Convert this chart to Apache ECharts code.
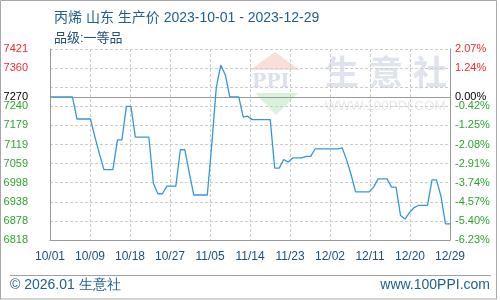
<!DOCTYPE html>
<html>
<head>
<meta charset="utf-8">
<script src="https://cdn.jsdelivr.net/npm/echarts@6/dist/echarts.min.js"></script>
<style>html,body{margin:0;padding:0;background:#fff;}#c{width:500px;height:300px;}</style>
</head>
<body>
<div id="c"></div>
<script>
// ---- data ----
var startDate = [2023, 9, 1]; // 2023-10-01
var prices = [
  7270,7270,7270,7270,7270,7270,
  7200,7200,7200,7200,
  7143,7090,
  7040,7040,7040,
  7134,7134,
  7240,7240,
  7143,7143,7143,7143,
  6997,
  6964,6964,
  6988,6988,6988,
  7103,7103,
  7029,
  6960,6960,6960,6960,
  7120,7300,7370,7340,
  7270,7270,7270,
  7206,7209,
  7198,7198,7198,7198,7198,
  7045,7045,
  7072,7064,
  7077,7077,7077,
  7082,7082,
  7106,7106,7106,7106,7106,7106,
  7109,7071,7024,
  6970,6970,6970,6970,
  6985,
  7011,7011,7011,
  6985,6985,
  6895,6884,6905,6920,
  6927,6927,6927,
  7008,7008,
  6955,
  6869,6869
];
var basePrice = 7270;
var xTickLabels = ['10/01','10/09','10/18','10/27','11/05','11/14','11/23','12/02','12/11','12/20','12/29'];
var yLeftLabels = ['6818','6878','6938','6998','7059','7119','7179','7240','','7360','7421'];
var yRightLabels = ['-6.23%','-5.40%','-4.57%','-3.74%','-2.91%','-2.08%','-1.25%','-0.42%','','1.24%','2.07%'];
var yMin = 6818, yMax = 7421, yStep = 60.3;
var xStep = 8.9;

// build dates
var dates = prices.map(function (_, i) {
  var d = new Date(startDate[0], startDate[1], startDate[2] + i);
  return d;
});
var seriesData = prices.map(function (v, i) { return [i, v]; });

var FONT = '"Liberation Sans", "Noto Sans CJK SC", sans-serif';
var RED = '#f0282a', GREEN = '#2aa52a';

function yIdx(v) { return Math.round((v - yMin) / yStep); }

var chart = echarts.init(document.getElementById('c'), null, {renderer: 'canvas'});
chart.setOption({
  animation: false,
  backgroundColor: '#fff',
  grid: {left: 50, right: 50, top: 49, bottom: 60, containLabel: false},
  title: [
    {text: '丙烯 山东 生产价 2023-10-01 - 2023-12-29', left: 49, top: 6,
     textStyle: {fontSize: 14, fontWeight: 'normal', color: '#1d5f8e', fontFamily: FONT}},
    {text: '品级:一等品', left: 49, top: 27,
     textStyle: {fontSize: 13, fontWeight: 'normal', color: '#24507a', fontFamily: FONT}}
  ],
  xAxis: {
    type: 'value', min: 0, max: prices.length - 1, interval: xStep,
    axisLine: {show: true, lineStyle: {color: '#999', width: 1}},
    axisTick: {show: false},
    splitLine: {show: true, lineStyle: {color: '#ccc', type: [3, 2], width: 1}},
    axisLabel: {
      margin: 11, fontSize: 12, color: '#1a5080', fontFamily: FONT,
      showMinLabel: true, showMaxLabel: true,
      formatter: function (v) { return xTickLabels[Math.round(v / xStep)] || ''; }
    }
  },
  yAxis: [
    {
      type: 'value', min: yMin, max: yMax, interval: yStep, position: 'left',
      axisLine: {show: true, lineStyle: {color: '#999', width: 1}},
      axisTick: {show: false},
      splitLine: {show: true, lineStyle: {color: '#ccc', type: [3, 2], width: 1}},
      axisLabel: {
        margin: 22, fontSize: 11, fontFamily: FONT,
        showMinLabel: true, showMaxLabel: true,
        formatter: function (v) { return yLeftLabels[yIdx(v)] || ''; },
        color: function (v) { return v > basePrice ? RED : GREEN; }
      }
    },
    {
      type: 'value', min: yMin, max: yMax, interval: yStep, position: 'right',
      axisLine: {show: true, lineStyle: {color: '#999', width: 1}},
      axisTick: {show: false},
      splitLine: {show: false},
      axisLabel: {
        margin: 5, fontSize: 11, fontFamily: FONT,
        showMinLabel: true, showMaxLabel: true,
        formatter: function (v) { return yRightLabels[yIdx(v)] || ''; },
        color: function (v) { return v > basePrice ? RED : GREEN; }
      }
    }
  ],
  graphic: [
    {type: 'rect', z: -10, silent: true, shape: {x: 0.5, y: 0.5, width: 496, height: 298.5},
     style: {fill: null, stroke: '#a8a8a8', lineWidth: 1}},
    {type: 'line', silent: true, shape: {x1: 10, y1: 275.5, x2: 491, y2: 275.5},
     style: {stroke: '#a0a0a0', lineWidth: 1}},
    {type: 'text', left: 10, top: 278, silent: true,
     style: {text: '© 2026.01 生意社', fontSize: 14, fill: '#1d5f8e', font: '14px ' + FONT}},
    {type: 'text', right: 10, top: 278, silent: true,
     style: {text: 'www.100PPI.com', fontSize: 14, fill: '#1d5f8e', font: '14px ' + FONT}},
    // watermark
    {type: 'polygon', z: -5, silent: true, shape: {points: [[275, 52], [250, 70], [300, 70]]},
     style: {fill: 'rgba(240,160,150,0.35)'}},
    {type: 'text', z: -5, silent: true, x: 252, y: 73,
     style: {text: 'PPI', font: 'bold 19px "DejaVu Serif", serif', fill: 'rgba(180,195,225,0.5)'}},
    {type: 'polygon', z: -5, silent: true, shape: {points: [[255, 93], [298, 93], [276, 115]]},
     style: {fill: 'rgba(150,215,150,0.35)'}},
    {type: 'text', z: -5, silent: true, x: 325, y: 55,
     style: {text: '生', font: 'bold 34px "Noto Sans CJK SC"', fill: 'rgba(200,208,225,0.6)'}},
    {type: 'text', z: -5, silent: true, x: 369, y: 55,
     style: {text: '意', font: 'bold 34px "Noto Sans CJK SC"', fill: 'rgba(200,208,225,0.6)'}},
    {type: 'text', z: -5, silent: true, x: 413, y: 55,
     style: {text: '社', font: 'bold 34px "Noto Sans CJK SC"', fill: 'rgba(200,208,225,0.6)'}},
    {type: 'text', z: -5, silent: true, x: 325, y: 99,
     style: {text: 'WWW.100PPI.COM', font: '13.5px "Liberation Sans"', fill: 'rgba(215,215,215,0.6)'}}
  ],
  series: [{
    type: 'line',
    data: seriesData,
    yAxisIndex: 0,
    showSymbol: false,
    symbol: 'none',
    lineStyle: {color: '#3498d8', width: 1.3},
    z: 5,
    markLine: {
      silent: true, symbol: 'none', animation: false,
      lineStyle: {color: '#9a9a9a', type: 'solid', width: 1},
      data: [
        {yAxis: basePrice, label: {show: true, position: 'start', distance: 22, formatter: String(basePrice),
          color: '#000', fontSize: 11, fontFamily: FONT}},
        {yAxis: basePrice, label: {show: true, position: 'end', distance: 5, formatter: '0.00%',
          color: '#000', fontSize: 11, fontFamily: FONT}}
      ]
    }
  }]
});
</script>
</body>
</html>
